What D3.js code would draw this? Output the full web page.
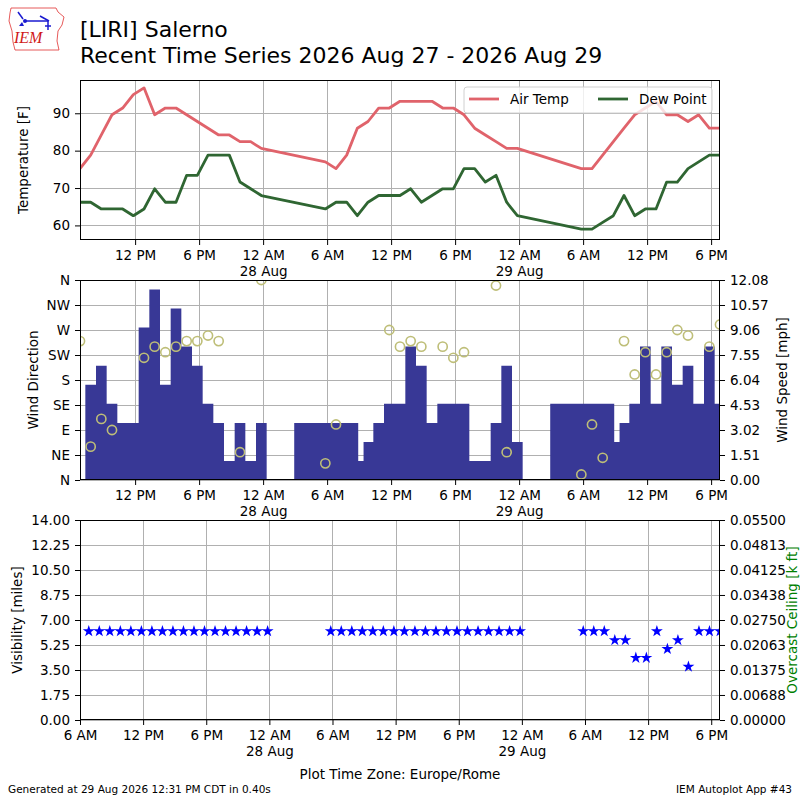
<!DOCTYPE html>
<html>
<head>
<meta charset="utf-8">
<script src="https://cdn.jsdelivr.net/npm/d3@7"></script>
<style>
  body { margin: 0; background: #fff; }
  svg { font-family: "DejaVu Sans", sans-serif; }
</style>
</head>
<body>
<svg width="800" height="800"></svg>
<script>
// hourly obs with temps / visibility
const obsTimes = [
  '2026-08-27 06:50', '2026-08-27 07:50', '2026-08-27 08:50', '2026-08-27 09:50', '2026-08-27 10:50', '2026-08-27 11:50',
  '2026-08-27 12:50', '2026-08-27 13:50', '2026-08-27 14:50', '2026-08-27 15:50', '2026-08-27 16:50', '2026-08-27 17:50',
  '2026-08-27 18:50', '2026-08-27 19:50', '2026-08-27 20:50', '2026-08-27 21:50', '2026-08-27 22:50', '2026-08-27 23:50',
  '2026-08-28 05:50', '2026-08-28 06:50', '2026-08-28 07:50', '2026-08-28 08:50', '2026-08-28 09:50', '2026-08-28 10:50',
  '2026-08-28 11:50', '2026-08-28 12:50', '2026-08-28 13:50', '2026-08-28 14:50', '2026-08-28 15:50', '2026-08-28 16:50',
  '2026-08-28 17:50', '2026-08-28 18:50', '2026-08-28 19:50', '2026-08-28 20:50', '2026-08-28 21:50', '2026-08-28 22:50',
  '2026-08-28 23:50',
  '2026-08-29 05:50', '2026-08-29 06:50', '2026-08-29 07:50', '2026-08-29 08:50', '2026-08-29 09:50', '2026-08-29 10:50',
  '2026-08-29 11:50', '2026-08-29 12:50', '2026-08-29 13:50', '2026-08-29 14:50', '2026-08-29 15:50', '2026-08-29 16:50',
  '2026-08-29 17:50', '2026-08-29 18:50'
];
const airTemp = [
  75.2, 78.8, 84.2, 89.6, 91.4, 95.0, 96.8, 89.6, 91.4, 91.4, 89.6, 87.8, 86.0, 84.2, 84.2, 82.4, 82.4, 80.6,
  77.0, 75.2, 78.8, 86.0, 87.8, 91.4, 91.4, 93.2, 93.2, 93.2, 93.2, 91.4, 91.4, 89.6, 86.0, 84.2, 82.4, 80.6, 80.6,
  75.2, 75.2, 78.8, 82.4, 86.0, 89.6, 91.4, 93.2, 89.6, 89.6, 87.8, 89.6, 86.0, 86.0
];
const dewPoint = [
  66.2, 66.2, 64.4, 64.4, 64.4, 62.6, 64.4, 69.8, 66.2, 66.2, 73.4, 73.4, 78.8, 78.8, 78.8, 71.6, 69.8, 68.0,
  64.4, 66.2, 66.2, 62.6, 66.2, 68.0, 68.0, 68.0, 69.8, 66.2, 68.0, 69.8, 69.8, 75.2, 75.2, 71.6, 73.4, 66.2, 62.6,
  59.0, 59.0, 60.8, 62.6, 68.0, 62.6, 64.4, 64.4, 71.6, 71.6, 75.2, 77.0, 78.8, 78.8
];
const visibility = [
  6.21, 6.21, 6.21, 6.21, 6.21, 6.21, 6.21, 6.21, 6.21, 6.21, 6.21, 6.21, 6.21, 6.21, 6.21, 6.21, 6.21, 6.21,
  6.21, 6.21, 6.21, 6.21, 6.21, 6.21, 6.21, 6.21, 6.21, 6.21, 6.21, 6.21, 6.21, 6.21, 6.21, 6.21, 6.21, 6.21, 6.21,
  6.21, 6.21, 6.21, 5.59, 5.59, 4.35, 4.35, 6.21, 4.97, 5.59, 3.73, 6.21, 6.21, 6.21
];

// wind reports (includes a few extra reports)
const windTimes = [
  '2026-08-27 06:50', '2026-08-27 07:50', '2026-08-27 08:50', '2026-08-27 09:50', '2026-08-27 10:50', '2026-08-27 11:50',
  '2026-08-27 12:50', '2026-08-27 13:50', '2026-08-27 14:50', '2026-08-27 15:50', '2026-08-27 16:50', '2026-08-27 17:50',
  '2026-08-27 18:50', '2026-08-27 19:50', '2026-08-27 20:50', '2026-08-27 21:50', '2026-08-27 22:50', '2026-08-27 23:50',
  '2026-08-28 00:50', '2026-08-28 05:00', '2026-08-28 05:50', '2026-08-28 06:50', '2026-08-28 07:50', '2026-08-28 08:50',
  '2026-08-28 09:00', '2026-08-28 09:50', '2026-08-28 10:50', '2026-08-28 11:50', '2026-08-28 12:50', '2026-08-28 13:50',
  '2026-08-28 14:50', '2026-08-28 15:50', '2026-08-28 16:50', '2026-08-28 17:50', '2026-08-28 18:50', '2026-08-28 19:50',
  '2026-08-28 20:50', '2026-08-28 21:50', '2026-08-28 22:50', '2026-08-28 23:50',
  '2026-08-29 00:50', '2026-08-29 05:00', '2026-08-29 05:50', '2026-08-29 06:50', '2026-08-29 07:50', '2026-08-29 08:50',
  '2026-08-29 09:00', '2026-08-29 09:50', '2026-08-29 10:50', '2026-08-29 11:50', '2026-08-29 12:50', '2026-08-29 13:50',
  '2026-08-29 14:50', '2026-08-29 15:50', '2026-08-29 16:50', '2026-08-29 17:50', '2026-08-29 18:50'
];
const windSpeed = [
  0, 5.75, 6.90, 4.60, 3.45, 3.45, 9.21, 11.51, 5.75, 10.36, 8.06, 6.90, 4.60, 3.45, 1.15, 3.45, 1.15, 3.45,
  0, 3.45, 3.45, 3.45, 3.45, 3.45, 1.15, 2.30, 3.45, 4.60, 4.60, 8.06, 6.90, 3.45, 4.60, 4.60, 4.60, 1.15,
  1.15, 3.45, 6.90, 2.30,
  0, 4.60, 4.60, 4.60, 4.60, 4.60, 2.30, 3.45, 4.60, 8.06, 4.60, 8.06, 5.75, 6.90, 4.60, 8.06, 4.60
];
const windDir = [
  250, 60, 110, 90, null, null, 220, 240, 230, 240, 250, 250, 260, 250, null, 50, null, 360,
  null, null, 30, 100, null, null, null, null, null, 270, 240, 250, 240, null, 240, 220, 230, null,
  null, 350, 50, null,
  null, null, 10, 100, 40, null, null, 250, 190, 230, 190, 230, 270, 260, null, 240, 280
];

const tempTicks = [60, 70, 80, 90];
const dirLabels = ['N', 'NE', 'E', 'SE', 'S', 'SW', 'W', 'NW', 'N'];
const speedTicks = ['0.00', '1.51', '3.02', '4.53', '6.04', '7.55', '9.06', '10.57', '12.08'];
const visTicks = ['0.00', '1.75', '3.50', '5.25', '7.00', '8.75', '10.50', '12.25', '14.00'];
const ceilTicks = ['0.00000', '0.00688', '0.01375', '0.02063', '0.02750', '0.03438', '0.04125', '0.04813', '0.05500'];
const seriesNames = ['Air Temp', 'Dew Point'];
const seriesColors = ['#e0636b', '#2f6632'];

const parse = d3.timeParse('%Y-%m-%d %H:%M');
const obs = obsTimes.map((t, i) => ({ t: parse(t), tmp: airTemp[i], dwp: dewPoint[i], vis: visibility[i] }));
const wind = windTimes.map((t, i) => ({ t: parse(t), s: windSpeed[i], d: windDir[i] }));

const svg = d3.select('svg');
const L = 80, R = 720;
const fs = 13.5;
const grid = '#b0b0b0';

const xTop = d3.scaleTime()
  .domain([parse('2026-08-27 06:50'), parse('2026-08-29 18:50')])
  .range([L, R]);
const xBot = d3.scaleTime()
  .domain([parse('2026-08-27 06:00'), parse('2026-08-29 18:50')])
  .range([L, R]);

const yTemp = d3.scaleLinear().domain([56.1, 98.9]).range([240, 80]);
const yDir = d3.scaleLinear().domain([0, 360]).range([480, 280]);
const ySpd = d3.scaleLinear().domain([0, 12.08]).range([480, 280]);
const yVis = d3.scaleLinear().domain([0, 14]).range([720, 520]);
const yCeil = d3.scaleLinear().domain([0, 0.055]).range([720, 520]);

const fmtHour = d3.timeFormat('%-I %p');
const fmtDay = d3.timeFormat('%-d %b');

function sixHourTicks(x) {
  const [a, b] = x.domain();
  return d3.timeHour.every(6).range(a, new Date(+b + 1));
}

function clip(id, top, bottom) {
  svg.append('clipPath').attr('id', id)
    .append('rect').attr('x', L).attr('y', top).attr('width', R - L).attr('height', bottom - top);
  return `url(#${id})`;
}

function drawGrid(x, y, yVals, top, bottom) {
  const g = svg.append('g').attr('stroke', grid).attr('stroke-width', 1);
  g.selectAll('.gx').data(sixHourTicks(x)).join('line')
    .attr('x1', d => Math.round(x(d)) + 0.5).attr('x2', d => Math.round(x(d)) + 0.5)
    .attr('y1', top).attr('y2', bottom);
  g.selectAll('.gy').data(yVals).join('line')
    .attr('x1', L).attr('x2', R)
    .attr('y1', d => Math.round(y(d)) + 0.5).attr('y2', d => Math.round(y(d)) + 0.5);
}

function drawXAxis(x, y0) {
  const g = svg.append('g').attr('transform', `translate(0,${y0})`)
    .call(d3.axisBottom(x).tickValues(sixHourTicks(x)).tickFormat(fmtHour)
      .tickSize(5).tickSizeOuter(0).tickPadding(5));
  g.attr('font-size', fs).attr('font-family', null);
  g.select('.domain').remove();
  g.selectAll('.tick text').attr('fill', '#000').each(function (d) {
    if (d.getHours() === 0) {
      d3.select(this).append('tspan').attr('x', 0).attr('dy', '1.2em').text(fmtDay(d));
    }
  });
}

function drawYAxis(axis, xPos) {
  const g = svg.append('g').attr('transform', `translate(${xPos},0)`).call(axis);
  g.attr('font-size', fs).attr('font-family', null);
  g.select('.domain').remove();
  g.selectAll('.tick text').attr('fill', '#000');
}

function frame(top, bottom) {
  svg.append('rect').attr('x', L + 0.5).attr('y', top + 0.5)
    .attr('width', R - L - 1).attr('height', bottom - top - 1)
    .attr('fill', 'none').attr('stroke', '#000').attr('stroke-width', 1);
}

function yLabel(text, x, y, color) {
  svg.append('text')
    .attr('transform', `translate(${x},${y}) rotate(-90)`)
    .attr('text-anchor', 'middle').attr('dy', '0.35em')
    .attr('font-size', fs).attr('fill', color || '#000')
    .text(text);
}

// ---- header
const logo = svg.append('g');
logo.append('path')
  .attr('d', 'M11,8 L56,8 L58,12 L64,17 L62,25 L58,31 L57,41 L59,50 L15,50 L13,42 L12,31 L9,21 L10,13 Z')
  .attr('fill', 'none').attr('stroke', '#e03030').attr('stroke-width', 0.8);
logo.append('text').attr('x', 14).attr('y', 43)
  .attr('font-family', '"Liberation Serif", serif').attr('font-style', 'italic')
  .attr('font-size', 16).attr('fill', '#d01818').text('IEM');
logo.append('g').attr('stroke', '#1a1ad0').attr('stroke-width', 1.5).attr('fill', 'none')
  .call(g => {
    g.append('line').attr('x1', 24).attr('y1', 21).attr('x2', 48).attr('y2', 21);
    g.append('line').attr('x1', 18).attr('y1', 12).attr('x2', 23).attr('y2', 19);
    g.append('line').attr('x1', 40).attr('y1', 16).attr('x2', 49).attr('y2', 21);
    g.append('line').attr('x1', 48).attr('y1', 21).attr('x2', 48).attr('y2', 30);
    g.append('line').attr('x1', 45).attr('y1', 26).attr('x2', 51).attr('y2', 26);
  });
logo.append('circle').attr('cx', 25).attr('cy', 21).attr('r', 2).attr('fill', '#1a1ad0');
logo.append('path').attr('d', 'M19,26 L22,22 L24,26 Z').attr('fill', '#1a1ad0');

svg.append('text').attr('x', 80).attr('y', 37).attr('font-size', 22).text('[LIRI] Salerno');
svg.append('text').attr('x', 80).attr('y', 63).attr('font-size', 22)
  .text('Recent Time Series 2026 Aug 27 - 2026 Aug 29');

// ---- panel 1: temperatures
drawGrid(xTop, yTemp, tempTicks, 80, 240);
const c1 = clip('c1', 80, 240);
['tmp', 'dwp'].forEach((k, i) => {
  svg.append('path').datum(obs)
    .attr('clip-path', c1)
    .attr('fill', 'none').attr('stroke', seriesColors[i]).attr('stroke-width', 2.8)
    .attr('stroke-linejoin', 'round')
    .attr('d', d3.line().x(d => xTop(d.t)).y(d => yTemp(d[k])));
});
frame(80, 240);
drawXAxis(xTop, 240);
drawYAxis(d3.axisLeft(yTemp).tickValues(tempTicks).tickSize(5).tickPadding(5), L);
yLabel('Temperature [F]', 23, 160);

const leg = svg.append('g').attr('transform', 'translate(464,87)');
leg.append('rect').attr('width', 248).attr('height', 26).attr('rx', 3)
  .attr('fill', '#fff').attr('fill-opacity', 0.8).attr('stroke', '#d0d0d0');
const legX = [5, 134];
seriesNames.forEach((name, i) => {
  leg.append('line').attr('x1', legX[i]).attr('x2', legX[i] + 30).attr('y1', 12).attr('y2', 12)
    .attr('stroke', seriesColors[i]).attr('stroke-width', 2.8);
  leg.append('text').attr('x', legX[i] + 41).attr('y', 17).attr('font-size', fs).text(name);
});

// ---- panel 2: wind
const dirVals = dirLabels.map((d, i) => i * 45);
drawGrid(xTop, yDir, dirVals, 280, 480);
const c2 = clip('c2', 280, 480);
svg.append('path').datum(wind)
  .attr('clip-path', c2)
  .attr('fill', '#383896')
  .attr('d', d3.area().curve(d3.curveStep).x(d => xTop(d.t)).y0(ySpd(0)).y1(d => ySpd(d.s)));
svg.append('g').attr('clip-path', c2)
  .selectAll('circle').data(wind.filter(d => d.d !== null)).join('circle')
  .attr('cx', d => xTop(d.t)).attr('cy', d => yDir(d.d)).attr('r', 4.6)
  .attr('fill', 'none').attr('stroke', '#bebe78').attr('stroke-width', 1.6);
frame(280, 480);
drawXAxis(xTop, 480);
drawYAxis(d3.axisLeft(yDir).tickValues(dirVals).tickFormat((d, i) => dirLabels[i]).tickSize(5).tickPadding(5), L);
drawYAxis(d3.axisRight(ySpd).tickValues(speedTicks.map(Number)).tickFormat((d, i) => speedTicks[i]).tickSize(5).tickPadding(5), R);
yLabel('Wind Direction', 33, 380);
yLabel('Wind Speed [mph]', 782, 380);

// ---- panel 3: visibility
drawGrid(xBot, yVis, visTicks.map(Number), 520, 720);
const c3 = clip('c3', 520, 720);
svg.append('g').attr('clip-path', c3)
  .selectAll('path').data(obs).join('path')
  .attr('transform', d => `translate(${xBot(d.t)},${yVis(d.vis)})`)
  .attr('d', d3.symbol(d3.symbolStar, 44))
  .attr('fill', '#0000ff');
frame(520, 720);
drawXAxis(xBot, 720);
drawYAxis(d3.axisLeft(yVis).tickValues(visTicks.map(Number)).tickFormat((d, i) => visTicks[i]).tickSize(5).tickPadding(5), L);
drawYAxis(d3.axisRight(yCeil).tickValues(ceilTicks.map(Number)).tickFormat((d, i) => ceilTicks[i]).tickSize(5).tickPadding(5), R);
yLabel('Visibility [miles]', 17, 620);
yLabel('Overcast Ceiling [k ft]', 792, 620, '#008000');

// ---- footer
svg.append('text').attr('x', 400).attr('y', 779).attr('text-anchor', 'middle')
  .attr('font-size', fs).text('Plot Time Zone: Europe/Rome');
svg.append('text').attr('x', 8).attr('y', 793).attr('font-size', 10.5)
  .text('Generated at 29 Aug 2026 12:31 PM CDT in 0.40s');
svg.append('text').attr('x', 792).attr('y', 793).attr('text-anchor', 'end').attr('font-size', 10.5)
  .text('IEM Autoplot App #43');
</script>
</body>
</html>
